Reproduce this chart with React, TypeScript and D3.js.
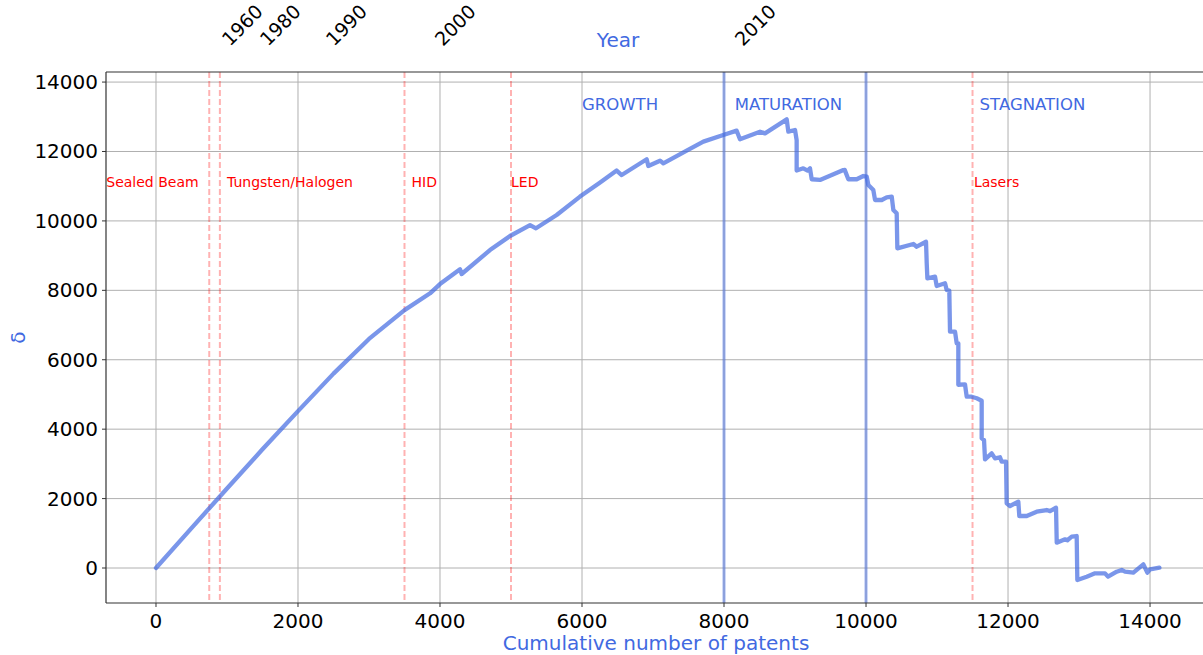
import * as d3 from 'd3';

// cumulative patent count (x) and delta (y)
const patents = [
  0, 500, 1000, 1500, 2000, 2500, 3000, 3500, 3860, 4000, 4282, 4305, 4704, 4986, 5268, 5352,
  5643, 5972, 6250, 6488, 6559, 6911, 6934, 7099, 7145, 7474, 7709, 7990, 8178, 8225, 8507,
  8577, 8883, 8906, 9000, 9023, 9023, 9117, 9177, 9211, 9235, 9352, 9681, 9700, 9751, 9869,
  9962, 10010, 10033, 10103, 10127, 10221, 10291, 10362, 10385, 10432, 10441, 10667, 10714,
  10845, 10855, 10864, 10972, 10995, 11113, 11136, 11173, 11183, 11254, 11277, 11300, 11300,
  11394, 11418, 11488, 11559, 11629, 11629, 11662, 11676, 11770, 11817, 11887, 11911, 11972,
  11981, 12028, 12145, 12159, 12263, 12404, 12545, 12592, 12676, 12686, 12803, 12836, 12897,
  12967, 12976, 13108, 13225, 13366, 13408, 13531, 13601, 13648, 13765, 13906, 13962, 14000,
  14132,
];
const deltas = [
  0, 1150, 2290, 3420, 4520, 5600, 6600, 7430, 7914, 8180, 8605, 8470, 9160, 9565, 9880, 9787,
  10170, 10700, 11100, 11450, 11322, 11775, 11582, 11735, 11660, 12025, 12283, 12475, 12600,
  12350, 12570, 12522, 12925, 12570, 12620, 12330, 11450, 11515, 11450, 11515, 11200, 11180,
  11466, 11470, 11200, 11200, 11293, 11273, 11034, 10890, 10602, 10602, 10680, 10700, 10314,
  10218, 9210, 9334, 9257, 9400, 8777, 8345, 8393, 8125, 8202, 8010, 7990, 6808, 6808, 6474,
  6474, 5280, 5290, 4935, 4935, 4890, 4820, 3736, 3688, 3131, 3304, 3160, 3190, 3063, 3063,
  1864, 1786, 1911, 1498, 1498, 1622, 1671, 1640, 1737, 729, 827, 800, 902, 922, -346, -250,
  -153, -153, -250, -106, -58, -106, -135, 106, -135, -40, 10,
];

const xTicks = [0, 2000, 4000, 6000, 8000, 10000, 12000, 14000];
const yTicks = [0, 2000, 4000, 6000, 8000, 10000, 12000, 14000];

// secondary (top) axis: year labels at patent counts
const yearLabels = ['1960', '1980', '1990', '2000', '2010'];
const yearAt = [1042, 1577, 2507, 4042, 8268];

const techNames = ['Sealed Beam', 'Tungsten/Halogen', 'HID', 'LED', 'Lasers'];
const techLabelAt = [-700, 1000, 3600, 5000, 11520];
const techLines = [750, 900, 3500, 5000, 11500];

const phaseNames = ['GROWTH', 'MATURATION', 'STAGNATION'];
const phaseLabelAt = [6000, 8150, 11600];
const phaseLines = [8000, 10000];

const W = 1203;
const H = 655;
const margin = { top: 72, right: 0, bottom: 52, left: 106 };
const font = '"DejaVu Sans", sans-serif';
const blue = '#4169e1';

export default function App() {
  const x = d3.scaleLinear().domain([-704, 14746]).range([margin.left, W - margin.right]);
  const y = d3.scaleLinear().domain([-1008, 14290]).range([H - margin.bottom, margin.top]);
  const pts: [number, number][] = patents.map((p, i) => [p, deltas[i]]);
  const line = d3.line<[number, number]>().x(d => x(d[0])).y(d => y(d[1]));
  const bottom = H - margin.bottom;
  const top = margin.top;

  return (
    <svg width={W} height={H} style={{ position: 'absolute', left: 0, top: 0, fontFamily: font }}>
      <rect width={W} height={H} fill="#fff" />
      {/* grid */}
      {xTicks.map(t => (
        <line key={'gx' + t} x1={x(t)} x2={x(t)} y1={top} y2={bottom} stroke="#b0b0b0" strokeWidth={1} />
      ))}
      {yTicks.map(t => (
        <line key={'gy' + t} x1={margin.left} x2={W} y1={y(t)} y2={y(t)} stroke="#b0b0b0" strokeWidth={1} />
      ))}

      {/* technology boundaries */}
      {techLines.map(t => (
        <line key={'tl' + t} x1={x(t)} x2={x(t)} y1={top} y2={bottom}
          stroke="red" strokeOpacity={0.3} strokeWidth={2} strokeDasharray="6,3" />
      ))}
      {techNames.map((n, i) => (
        <text key={n} x={x(techLabelAt[i])} y={y(11000) + 1} fill="red" fontSize={14}>{n}</text>
      ))}

      {/* phase boundaries */}
      {phaseLines.map(t => (
        <line key={'pl' + t} x1={x(t)} x2={x(t)} y1={top} y2={bottom}
          stroke={blue} strokeOpacity={0.5} strokeWidth={3} />
      ))}
      {phaseNames.map((n, i) => (
        <text key={n} x={x(phaseLabelAt[i])} y={y(13200)} fill={blue} fontSize={16.5}>{n}</text>
      ))}

      <path d={line(pts) ?? ''} fill="none" stroke={blue} strokeOpacity={0.7} strokeWidth={4.3}
        strokeLinejoin="round" strokeLinecap="round" />

      {/* spines */}
      <line x1={margin.left} x2={W} y1={top} y2={top} stroke="#333" strokeWidth={1.2} />
      <line x1={margin.left} x2={W} y1={bottom} y2={bottom} stroke="#333" strokeWidth={1.2} />
      <line x1={margin.left} x2={margin.left} y1={top} y2={bottom} stroke="#333" strokeWidth={1.2} />

      {/* bottom axis */}
      {xTicks.map(t => (
        <g key={'xt' + t}>
          <line x1={x(t)} x2={x(t)} y1={bottom} y2={bottom + 4} stroke="#333" />
          <text x={x(t)} y={bottom + 25} textAnchor="middle" fontSize={20} fill="#000">{t}</text>
        </g>
      ))}
      {/* left axis */}
      {yTicks.map(t => (
        <g key={'yt' + t}>
          <line x1={margin.left - 4} x2={margin.left} y1={y(t)} y2={y(t)} stroke="#333" />
          <text x={margin.left - 8} y={y(t)} dy="0.35em" textAnchor="end" fontSize={20} fill="#000">{t}</text>
        </g>
      ))}
      {/* top axis (years) */}
      {yearLabels.map((lab, i) => (
        <text key={lab} transform={`translate(${x(yearAt[i])},47) rotate(-45)`} fontSize={19} fill="#000">{lab}</text>
      ))}

      <text x={618} y={47} textAnchor="middle" fontSize={20} fill={blue}>Year</text>
      <text x={656} y={650} textAnchor="middle" fontSize={20} fill={blue}>Cumulative number of patents</text>
      <text transform={`translate(25,${(top + bottom) / 2}) rotate(-90)`} textAnchor="middle" fontSize={20} fill={blue}>δ</text>
    </svg>
  );
}
